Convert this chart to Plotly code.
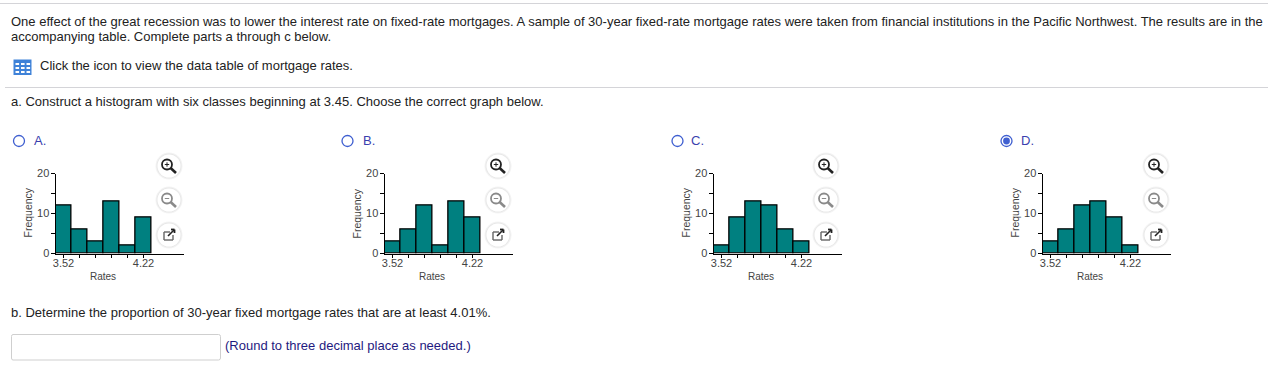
import plotly.graph_objects as go

W, H = 1268, 373

# ---- data ----
bin_centers = [3.52, 3.66, 3.80, 3.94, 4.08, 4.22]
tick_values = [3.52, 3.66, 3.80, 3.94, 4.08, 4.22]
tick_labels = ["3.52", "", "", "", "", "4.22"]
freq_tick_values = [0, 5, 10, 15, 20]
freq_tick_labels = ["0", "", "10", "", "20"]
freq_a = [12, 6, 3, 13, 2, 9]
freq_b = [3, 6, 12, 2, 13, 9]
freq_c = [2, 9, 13, 12, 6, 3]
freq_d = [3, 6, 12, 13, 9, 2]
option_labels = ["A.", "B.", "C.", "D."]
x_axis_title = "Rates"
y_axis_title = "Frequency"
intro_1 = ("One effect of the great recession was to lower the interest rate on fixed-rate mortgages. "
           "A sample of 30-year fixed-rate mortgage rates were taken from financial institutions in the "
           "Pacific Northwest. The results are in the")
intro_2 = "accompanying table. Complete parts a through c below."
icon_text = "Click the icon to view the data table of mortgage rates."
part_a = "a. Construct a histogram with six classes beginning at 3.45. Choose the correct graph below."
part_b = "b. Determine the proportion of 30-year fixed mortgage rates that are at least 4.01%."
hint = "(Round to three decimal place as needed.)"

# ---- layout helpers ----
FONT = "Liberation Sans, Arial, sans-serif"
px = lambda x: x / W
py = lambda y: 1 - y / H
shapes, annotations = [], []


def text(x, y, s, size=13, color="#222", anchor="left", angle=0):
    annotations.append(dict(x=px(x), y=py(y), xref="paper", yref="paper", text=s, showarrow=False,
                            xanchor=anchor, yanchor="middle", textangle=angle, borderpad=0,
                            font=dict(family=FONT, size=size, color=color)))


def line(x0, y0, x1, y1, color, width=1):
    shapes.append(dict(type="line", xref="paper", yref="paper", x0=px(x0), y0=py(y0), x1=px(x1), y1=py(y1),
                       line=dict(color=color, width=width)))


def rect(x0, y0, x1, y1, fill, border=None, width=1):
    shapes.append(dict(type="rect", xref="paper", yref="paper", x0=px(x0), y0=py(y0), x1=px(x1), y1=py(y1),
                       fillcolor=fill, line=dict(color=border or fill, width=width if border else 0)))


def circle(cx, cy, r, fill, border=None, width=1):
    shapes.append(dict(type="circle", xref="paper", yref="paper", x0=px(cx - r), y0=py(cy - r),
                       x1=px(cx + r), y1=py(cy + r), fillcolor=fill,
                       line=dict(color=border or fill, width=width if border else 0)))


def button(cx, cy):
    for r, c in ((13.5, "#f3f3f3"), (12.5, "#e8e8e8"), (11.5, "#ffffff")):
        circle(cx, cy, r, c)


def magnifier(cx, cy, color, plus):
    button(cx, cy)
    circle(cx - 2, cy - 1.5, 5, "#ffffff", color, 1.8)
    line(cx + 1.6, cy + 2, cx + 7, cy + 7, color, 2.6)
    line(cx - 4.2, cy - 1.5, cx + 0.2, cy - 1.5, color, 1)
    if plus:
        line(cx - 2, cy - 3.7, cx - 2, cy + 0.7, color, 1)


def popout(cx, cy):
    button(cx, cy)
    c = "#666666"
    line(cx - 5, cy - 3, cx + 1, cy - 3, c, 1.4)
    line(cx - 5, cy - 3, cx - 5, cy + 5, c, 1.4)
    line(cx - 5, cy + 5, cx + 4, cy + 5, c, 1.4)
    line(cx + 4, cy + 5, cx + 4, cy + 0, c, 1.4)
    line(cx - 1, cy + 1, cx + 5, cy - 5, "#222222", 1.6)
    line(cx + 2, cy - 5.5, cx + 5.5, cy - 5.5, "#222222", 1.8)
    line(cx + 5.5, cy - 5.5, cx + 5.5, cy - 2, "#222222", 1.8)


# ---- page furniture ----
line(0, 3.5, W, 3.5, "#d4d4d8")
line(5, 87.5, W, 87.5, "#d4d4d8")
text(10, 21, intro_1)
text(10, 37, intro_2)
text(39, 65, icon_text)
text(10, 101.5, part_a)
text(10, 312.5, part_b)
text(224, 345.5, hint, color="#1f1a80")

# table icon
rect(13.5, 59.5, 31.5, 75, "#3f82d8")
for gx in (15.5, 21, 26.5):
    for gy in (63, 67, 71):
        rect(gx, gy, gx + 3.6, gy + 2, "#ffffff")

# answer box
shapes.append(dict(type="path", xref="paper", yref="paper", fillcolor="#ffffff",
                   line=dict(color="#cfcfcf", width=1),
                   path=f"M {px(13)} {py(334.5)} L {px(218.5)} {py(334.5)} Q {px(220.5)} {py(334.5)} {px(220.5)} {py(336.5)} "
                        f"L {px(220.5)} {py(358)} Q {px(220.5)} {py(360)} {px(218.5)} {py(360)} "
                        f"L {px(13)} {py(360)} Q {px(11.5)} {py(360)} {px(11.5)} {py(358)} "
                        f"L {px(11.5)} {py(336.5)} Q {px(11.5)} {py(334.5)} {px(13)} {py(334.5)} Z"))

# ---- histograms ----
AXIS_W = 128
AXIS_TOP, AXIS_BOTTOM = 173.5, 253.5
panels = [
    dict(freq=freq_a, left=55.5, radio=19, label=32.5, btn=169),
    dict(freq=freq_b, left=384.5, radio=347.5, label=361.5, btn=498),
    dict(freq=freq_c, left=713.5, radio=677.5, label=690.5, btn=826),
    dict(freq=freq_d, left=1042.5, radio=1006.5, label=1019.5, btn=1156),
]

fig = go.Figure()
for i, p in enumerate(panels, start=1):
    xn, yn = ("x", "y") if i == 1 else (f"x{i}", f"y{i}")
    fig.add_trace(go.Bar(x=bin_centers, y=p["freq"], width=0.14, xaxis=xn, yaxis=yn, showlegend=False,
                         marker=dict(color="#008080", line=dict(color="#000000", width=1.3))))
    key = "" if i == 1 else str(i)
    fig.layout[f"xaxis{key}"] = dict(
        domain=[px(p["left"]), px(p["left"] + AXIS_W)], range=[3.45, 4.57], anchor=yn,
        tickmode="array", tickvals=tick_values, ticktext=tick_labels, ticks="outside", ticklen=3,
        tickwidth=1, tickcolor="#000", showgrid=False, zeroline=False, showline=True,
        linecolor="#000", linewidth=1, tickangle=0, ticklabelstandoff=-4,
        tickfont=dict(family=FONT, size=11, color="#444"))
    fig.layout[f"yaxis{key}"] = dict(
        domain=[py(AXIS_BOTTOM), py(AXIS_TOP)], range=[0, 20], anchor=xn,
        tickmode="array", tickvals=freq_tick_values, ticktext=freq_tick_labels, ticks="outside", ticklen=4,
        tickwidth=1, tickcolor="#000", showgrid=False, zeroline=False, showline=True,
        linecolor="#000", linewidth=1, ticklabelstandoff=-1,
        tickfont=dict(family=FONT, size=11, color="#444"))

    # option radio and label
    selected = i == 4
    circle(p["radio"], 141, 5.5, "#ffffff", "#3f5fd0", 1.3)
    if selected:
        circle(p["radio"], 141, 3.4, "#3f5fd0")
    text(p["label"], 140.5, option_labels[i - 1], color="#3b3fae")

    # axis titles
    text(p["left"] + 47, 276.5, x_axis_title, size=10, color="#444", anchor="center")
    text(p["left"] - 28, 213, y_axis_title, size=10.5, color="#444", anchor="center", angle=-90)

    # side buttons
    magnifier(p["btn"], 166, "#222222", True)
    magnifier(p["btn"], 200, "#8a8a8a", False)
    popout(p["btn"], 235)

fig.update_layout(width=W, height=H, autosize=False,
                  margin=dict(l=0, r=0, t=0, b=0, autoexpand=False), bargap=0,
                  paper_bgcolor="#ffffff", plot_bgcolor="rgba(0,0,0,0)", shapes=shapes, annotations=annotations,
                  font=dict(family=FONT))

fig.write_html("out.html", config={"displayModeBar": False},
               post_script="document.body.style.margin='0';document.body.style.overflow='hidden';")
